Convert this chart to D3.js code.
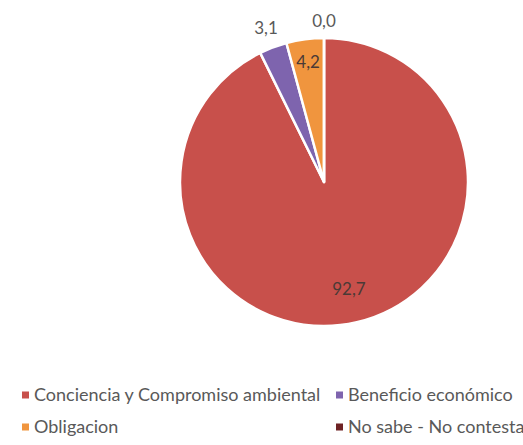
<!DOCTYPE html>
<html lang="es">
<head>
<meta charset="utf-8">
<title>Motivo</title>
<script src="https://d3js.org/d3.v7.min.js"></script>
<style>
  body { margin: 0; background: #fff; }
  text { font-family: Lato, "Noto Sans", sans-serif; }
</style>
</head>
<body>
<script>
// data
const categories = ["Conciencia y Compromiso ambiental", "Beneficio económico", "Obligacion", "No sabe - No contesta"];
const values = [92.7, 3.1, 4.2, 0.0];
const colors = ["#c8504b", "#7e64ae", "#f0953e", "#6e2224"];

const width = 523, height = 445;
const cx = 324, cy = 182, radius = 144;

const svg = d3.select("body").append("svg")
  .attr("width", width)
  .attr("height", height);

const data = categories.map((c, i) => ({ name: c, value: values[i], color: colors[i] }));

const pie = d3.pie().sort(null).value(d => d.value);
const arcs = pie(data);
const arc = d3.arc().innerRadius(0).outerRadius(radius);

const g = svg.append("g").attr("transform", `translate(${cx},${cy})`);

g.selectAll("path")
  .data(arcs)
  .enter()
  .append("path")
  .attr("d", arc)
  .attr("fill", d => d.data.color)
  .attr("stroke", "#fff")
  .attr("stroke-width", 2.5)
  .attr("stroke-linejoin", "round");

// labels: inside for big slices, outside for small ones
const fmt = v => d3.format(".1f")(v).replace(".", ",");
const ring = f => d3.arc().innerRadius(radius * f).outerRadius(radius * f);
const labelPos = [ring(0.76), ring(1.14), ring(0.84), ring(1.12)];

g.selectAll("text.lbl")
  .data(arcs)
  .enter()
  .append("text")
  .attr("class", "lbl")
  .attr("transform", (d, i) => `translate(${labelPos[i].centroid(d)})`)
  .attr("text-anchor", "middle")
  .attr("dy", "0.35em")
  .attr("font-size", 17)
  .attr("fill", (d, i) => i === 0 || i === 2 ? "#4a3a36" : "#595959")
  .text(d => fmt(d.data.value));

// legend, two columns
const colX = [22, 336];
const rowY = [395, 427];
const leg = svg.selectAll("g.leg")
  .data(data)
  .enter()
  .append("g")
  .attr("class", "leg")
  .attr("transform", (d, i) => `translate(${colX[i % 2]},${rowY[Math.floor(i / 2)]})`);

leg.append("rect")
  .attr("x", 0).attr("y", -3.5)
  .attr("width", 7).attr("height", 7)
  .attr("fill", d => d.color);

leg.append("text")
  .attr("x", 12)
  .attr("dy", "0.35em")
  .attr("font-size", 18)
  .attr("fill", "#595959")
  .text(d => d.name);
</script>
</body>
</html>
